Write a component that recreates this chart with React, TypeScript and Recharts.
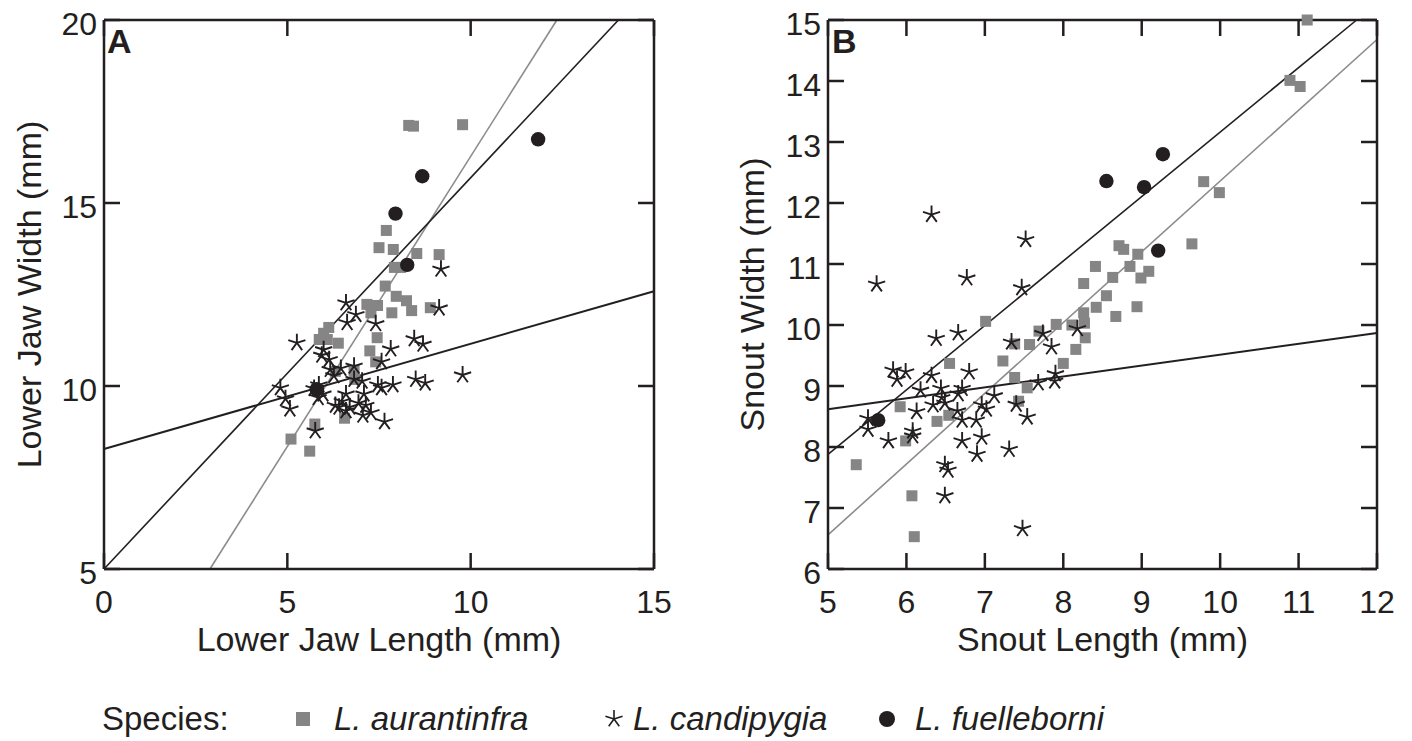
import React from 'react';
import { ScatterChart, Scatter, XAxis, YAxis, ReferenceLine } from 'recharts';

const INK = '#231f20';
const GREY = '#858585';
const LINE_GREY = '#8c8c8c';
const FONT = '"Liberation Sans", Arial, Helvetica, sans-serif';

// panel A: lower jaw length (x) vs lower jaw width (y), mm
const aurantinfraJaw = [
  { x: 8.31, y: 17.12 }, { x: 8.44, y: 17.1 }, { x: 9.78, y: 17.14 }, { x: 7.7, y: 14.25 },
  { x: 7.5, y: 13.78 }, { x: 7.89, y: 13.73 }, { x: 8.53, y: 13.62 }, { x: 9.14, y: 13.59 },
  { x: 7.92, y: 13.24 }, { x: 8.09, y: 13.24 }, { x: 7.67, y: 12.73 }, { x: 7.97, y: 12.45 },
  { x: 8.25, y: 12.33 }, { x: 8.39, y: 12.06 }, { x: 7.85, y: 12.0 }, { x: 7.17, y: 12.23 },
  { x: 7.46, y: 12.2 }, { x: 7.28, y: 12.0 }, { x: 8.9, y: 12.14 }, { x: 6.13, y: 11.6 },
  { x: 5.99, y: 11.44 }, { x: 5.87, y: 11.27 }, { x: 6.09, y: 11.27 }, { x: 6.39, y: 11.17 },
  { x: 7.45, y: 11.32 }, { x: 7.25, y: 10.96 }, { x: 7.41, y: 10.66 }, { x: 6.31, y: 10.4 },
  { x: 6.82, y: 10.43 }, { x: 6.84, y: 10.18 }, { x: 5.75, y: 8.96 }, { x: 6.56, y: 9.12 },
  { x: 5.1, y: 8.55 }, { x: 5.61, y: 8.22 },
];
const candipygiaJaw = [
  { x: 6.6, y: 12.27 }, { x: 6.87, y: 11.95 }, { x: 6.63, y: 11.73 }, { x: 7.41, y: 11.7 },
  { x: 9.19, y: 13.19 }, { x: 9.14, y: 12.13 }, { x: 5.26, y: 11.18 }, { x: 8.46, y: 11.29 },
  { x: 8.7, y: 11.14 }, { x: 7.82, y: 11.01 }, { x: 5.99, y: 10.99 }, { x: 5.94, y: 10.84 },
  { x: 6.14, y: 10.72 }, { x: 7.57, y: 10.66 }, { x: 6.17, y: 10.45 }, { x: 6.46, y: 10.48 },
  { x: 6.82, y: 10.54 }, { x: 6.27, y: 10.28 }, { x: 9.78, y: 10.3 }, { x: 4.81, y: 9.95 },
  { x: 4.95, y: 9.65 }, { x: 5.07, y: 9.37 }, { x: 5.73, y: 9.93 }, { x: 5.84, y: 9.68 },
  { x: 5.97, y: 9.78 }, { x: 6.82, y: 10.18 }, { x: 7.04, y: 10.13 }, { x: 7.47, y: 10.03 },
  { x: 7.57, y: 9.95 }, { x: 7.88, y: 10.03 }, { x: 8.5, y: 10.18 }, { x: 8.76, y: 10.08 },
  { x: 6.6, y: 9.78 }, { x: 7.09, y: 9.78 }, { x: 6.5, y: 9.58 }, { x: 6.31, y: 9.47 },
  { x: 6.7, y: 9.42 }, { x: 6.94, y: 9.53 }, { x: 7.14, y: 9.47 }, { x: 7.28, y: 9.27 },
  { x: 7.06, y: 9.2 }, { x: 6.41, y: 9.42 }, { x: 6.6, y: 9.32 }, { x: 7.65, y: 9.02 },
  { x: 5.76, y: 8.77 }, { x: 5.86, y: 10.03 },
];
const fuelleborniJaw = [
  { x: 11.84, y: 16.74 }, { x: 8.68, y: 15.73 }, { x: 7.95, y: 14.71 }, { x: 8.27, y: 13.31 },
  { x: 5.8, y: 9.91 },
];
const aurantinfraJawFit = [{ x: 2.89, y: 5 }, { x: 12.35, y: 20 }];
const candipygiaJawFit = [{ x: 0, y: 8.28 }, { x: 15, y: 12.59 }];
const fuelleborniJawFit = [{ x: 0, y: 5.0 }, { x: 14.03, y: 20 }];

// panel B: snout length (x) vs snout width (y), mm
const aurantinfraSnout = [
  { x: 11.11, y: 15.0 }, { x: 10.89, y: 14.01 }, { x: 11.02, y: 13.91 }, { x: 9.79, y: 12.35 },
  { x: 9.99, y: 12.17 }, { x: 9.64, y: 11.33 }, { x: 8.71, y: 11.3 }, { x: 8.77, y: 11.24 },
  { x: 8.95, y: 11.16 }, { x: 8.41, y: 10.96 }, { x: 8.85, y: 10.96 }, { x: 9.09, y: 10.88 },
  { x: 8.99, y: 10.77 }, { x: 8.26, y: 10.68 }, { x: 8.63, y: 10.78 }, { x: 8.55, y: 10.48 },
  { x: 8.42, y: 10.29 }, { x: 8.94, y: 10.3 }, { x: 8.26, y: 10.2 }, { x: 8.67, y: 10.14 },
  { x: 8.27, y: 10.03 }, { x: 8.11, y: 10.0 }, { x: 7.91, y: 10.01 }, { x: 8.28, y: 9.79 },
  { x: 8.16, y: 9.6 }, { x: 8.0, y: 9.37 }, { x: 7.69, y: 9.9 }, { x: 7.57, y: 9.68 },
  { x: 7.38, y: 9.69 }, { x: 7.23, y: 9.41 }, { x: 7.01, y: 10.06 }, { x: 6.55, y: 9.37 },
  { x: 7.38, y: 9.14 }, { x: 7.54, y: 8.97 }, { x: 7.43, y: 8.75 }, { x: 6.54, y: 8.52 },
  { x: 6.39, y: 8.42 }, { x: 5.92, y: 8.66 }, { x: 5.99, y: 8.1 }, { x: 5.36, y: 7.71 },
  { x: 6.07, y: 7.2 }, { x: 6.1, y: 6.53 },
];
const candipygiaSnout = [
  { x: 6.32, y: 11.81 }, { x: 7.52, y: 11.4 }, { x: 5.62, y: 10.67 }, { x: 6.77, y: 10.77 },
  { x: 7.47, y: 10.61 }, { x: 6.38, y: 9.78 }, { x: 6.66, y: 9.87 }, { x: 7.34, y: 9.72 },
  { x: 7.74, y: 9.86 }, { x: 8.18, y: 9.94 }, { x: 7.85, y: 9.64 }, { x: 5.83, y: 9.26 },
  { x: 5.99, y: 9.23 }, { x: 5.88, y: 9.11 }, { x: 6.32, y: 9.17 }, { x: 6.8, y: 9.23 },
  { x: 6.18, y: 8.93 }, { x: 6.44, y: 8.96 }, { x: 6.71, y: 8.96 }, { x: 6.66, y: 8.87 },
  { x: 6.45, y: 8.81 }, { x: 6.49, y: 8.72 }, { x: 6.34, y: 8.69 }, { x: 6.13, y: 8.58 },
  { x: 6.65, y: 8.59 }, { x: 6.71, y: 8.44 }, { x: 6.89, y: 8.44 }, { x: 6.96, y: 8.69 },
  { x: 7.02, y: 8.62 }, { x: 7.12, y: 8.84 }, { x: 7.68, y: 9.05 }, { x: 7.9, y: 9.2 },
  { x: 7.89, y: 9.08 }, { x: 7.4, y: 8.7 }, { x: 7.54, y: 8.49 }, { x: 5.51, y: 8.47 },
  { x: 5.51, y: 8.29 }, { x: 5.77, y: 8.1 }, { x: 6.08, y: 8.26 }, { x: 6.08, y: 8.18 },
  { x: 6.71, y: 8.1 }, { x: 6.96, y: 8.16 }, { x: 6.9, y: 7.88 }, { x: 7.31, y: 7.96 },
  { x: 6.49, y: 7.71 }, { x: 6.53, y: 7.62 }, { x: 6.49, y: 7.2 }, { x: 7.48, y: 6.66 },
];
const fuelleborniSnout = [
  { x: 8.55, y: 12.36 }, { x: 9.03, y: 12.26 }, { x: 9.27, y: 12.8 }, { x: 9.21, y: 11.22 },
  { x: 5.64, y: 8.44 },
];
const aurantinfraSnoutFit = [{ x: 5, y: 6.56 }, { x: 12, y: 14.68 }];
const candipygiaSnoutFit = [{ x: 5, y: 8.62 }, { x: 12, y: 9.87 }];
const fuelleborniSnoutFit = [{ x: 5, y: 7.88 }, { x: 11.74, y: 15 }];

const jawTicksX = [0, 5, 10, 15];
const jawTicksY = [5, 10, 15, 20];
const snoutTicksX = [5, 6, 7, 8, 9, 10, 11, 12];
const snoutTicksY = [6, 7, 8, 9, 10, 11, 12, 13, 14, 15];

const species = ['L. aurantinfra', 'L. candipygia', 'L. fuelleborni'];

const Square = (p: any) => <rect x={p.cx - 5.5} y={p.cy - 5.5} width={11} height={11} fill={GREY} />;
const Dot = (p: any) => <circle cx={p.cx} cy={p.cy} r={7.2} fill={INK} />;
const starPath = (cx: number, cy: number, r: number) => {
  let d = '';
  for (let k = 0; k < 5; k++) {
    const a = -Math.PI / 2 + (k * 2 * Math.PI) / 5;
    d += `M${cx} ${cy}L${cx + r * Math.cos(a)} ${cy + r * Math.sin(a)}`;
  }
  return d;
};
const Star = (p: any) => <path d={starPath(p.cx, p.cy, 9)} stroke={INK} strokeWidth={1.9} fill="none" />;

// ticks point inwards (negative tickSize), labels placed by hand below/left of the frame
const XTick = ({ x, y, payload }: any) => (
  <text x={x} y={y + 60} textAnchor="middle" fontSize={32} fill={INK} fontFamily={FONT}>{payload.value}</text>
);
const YTick = ({ x, y, payload }: any) => (
  <text x={x} y={y + 15} textAnchor="end" fontSize={32} fill={INK} fontFamily={FONT}>{payload.value}</text>
);
const NoTick = () => <g />;

const frame = { stroke: INK, strokeWidth: 2.5 };

function Panel(props: any) {
  const { width, left, right, xDomain, yDomain, xTicks, yTicks, xTitle, yTitle, yTitleX, squares, stars, dots, fits } = props;
  return (
    <ScatterChart width={width} height={680} margin={{ top: 19, right, bottom: 51, left }}>
      <XAxis xAxisId={0} type="number" dataKey="x" domain={xDomain} ticks={xTicks} interval={0}
        height={60} tickLine={frame} tickSize={-16} tickMargin={0} axisLine={frame} tick={<XTick />}
        label={(lp: any) => {
          const vb = lp.viewBox;
          return <text x={vb.x + vb.width / 2} y={vb.y + 82} textAnchor="middle" fontSize={34} fill={INK} fontFamily={FONT}>{xTitle}</text>;
        }} />
      <XAxis xAxisId="top" orientation="top" type="number" dataKey="x" domain={xDomain} ticks={xTicks} interval={0} allowDataOverflow
        height={1} tickSize={-16} tickLine={frame} axisLine={frame} tick={NoTick} />
      <YAxis yAxisId={0} type="number" dataKey="y" domain={yDomain} ticks={yTicks} interval={0}
        width={60} tickLine={frame} tickSize={-16} tickMargin={23} axisLine={frame} tick={<YTick />}
        label={(lp: any) => {
          const vb = lp.viewBox;
          const cy = vb.y + vb.height / 2;
          return <text x={yTitleX} y={cy} transform={`rotate(-90 ${yTitleX} ${cy})`} textAnchor="middle" fontSize={34} fill={INK} fontFamily={FONT}>{yTitle}</text>;
        }} />
      <YAxis yAxisId="right" orientation="right" type="number" dataKey="y" domain={yDomain} ticks={yTicks} interval={0} allowDataOverflow
        width={1} tickSize={-16} tickLine={frame} axisLine={frame} tick={NoTick} />
      <Scatter name={species[0]} data={squares} shape={Square} isAnimationActive={false} />
      <Scatter name={species[1]} data={stars} shape={Star} isAnimationActive={false} />
      <Scatter name={species[2]} data={dots} shape={Dot} isAnimationActive={false} />
      <ReferenceLine segment={fits[0]} stroke={LINE_GREY} strokeWidth={1.6} ifOverflow="visible" />
      <ReferenceLine segment={fits[1]} stroke={INK} strokeWidth={2} ifOverflow="visible" />
      <ReferenceLine segment={fits[2]} stroke={INK} strokeWidth={1.6} ifOverflow="visible" />
    </ScatterChart>
  );
}

const textStyle: React.CSSProperties = { fontFamily: FONT, fontSize: 33, fill: INK };

export default function App() {
  return (
    <div style={{ position: 'absolute', left: 0, top: 0, width: 1412, height: 741, background: '#fff', overflow: 'hidden' }}>
      <div style={{ position: 'absolute', left: 0, top: 0 }}>
        <Panel width={720} left={44} right={65} xDomain={[0, 15]} yDomain={[5, 20]} xTicks={jawTicksX} yTicks={jawTicksY}
          xTitle="Lower Jaw Length (mm)" yTitle="Lower Jaw Width (mm)" yTitleX={41}
          squares={aurantinfraJaw} stars={candipygiaJaw} dots={fuelleborniJaw}
          fits={[aurantinfraJawFit, candipygiaJawFit, fuelleborniJawFit]} />
      </div>
      <div style={{ position: 'absolute', left: 720, top: 0 }}>
        <Panel width={692} left={48} right={34} xDomain={[5, 12]} yDomain={[6, 15]} xTicks={snoutTicksX} yTicks={snoutTicksY}
          xTitle="Snout Length (mm)" yTitle="Snout Width (mm)" yTitleX={44}
          squares={aurantinfraSnout} stars={candipygiaSnout} dots={fuelleborniSnout}
          fits={[aurantinfraSnoutFit, candipygiaSnoutFit, fuelleborniSnoutFit]} />
      </div>
      <svg style={{ position: 'absolute', left: 0, top: 0 }} width={1412} height={741} pointerEvents="none">
        <text x={107} y={53} style={{ ...textStyle, fontSize: 34, fontWeight: 700 }}>A</text>
        <text x={832} y={53} style={{ ...textStyle, fontSize: 34, fontWeight: 700 }}>B</text>
        <text x={102} y={730} style={textStyle}>Species:</text>
        <rect x={296} y={712} width={14} height={14} fill={GREY} />
        <text x={334} y={730} style={{ ...textStyle, fontStyle: 'italic' }}>{species[0]}</text>
        <path d={starPath(614, 719, 9)} stroke={INK} strokeWidth={1.6} fill="none" />
        <text x={633} y={730} style={{ ...textStyle, fontStyle: 'italic' }}>{species[1]}</text>
        <circle cx={887} cy={719} r={8} fill={INK} />
        <text x={915} y={730} style={{ ...textStyle, fontStyle: 'italic' }}>{species[2]}</text>
      </svg>
    </div>
  );
}
